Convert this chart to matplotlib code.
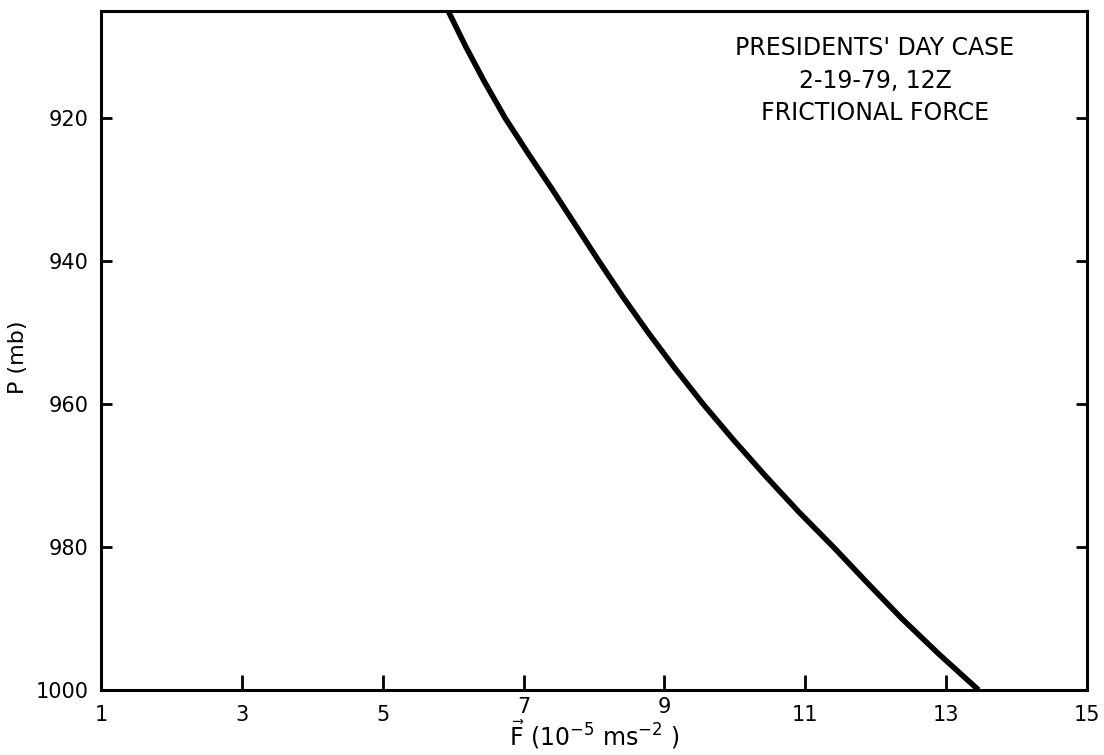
import matplotlib
matplotlib.use('Agg')
import matplotlib.pyplot as plt

# frictional force profile
pressure = [905, 910, 915, 920, 925, 930, 935, 940, 945, 950,
            955, 960, 965, 970, 975, 980, 985, 990, 995, 1000]   # mb
force = [5.93, 6.18, 6.45, 6.74, 7.07, 7.41, 7.74, 8.07, 8.41, 8.77,
         9.15, 9.55, 9.98, 10.43, 10.90, 11.40, 11.88, 12.37, 12.90, 13.46]  # 1e-5 m s-2

xticks = [1, 3, 5, 7, 9, 11, 13, 15]
yticks = [920, 940, 960, 980, 1000]
title_lines = ["PRESIDENTS' DAY CASE", "2-19-79, 12Z", "FRICTIONAL FORCE"]

plt.rcParams['font.family'] = ['DejaVu Sans']
plt.rcParams['mathtext.default'] = 'regular'

fig = plt.figure(figsize=(11.04, 7.55), dpi=100)
ax = fig.add_axes([0.0915, 0.0861, 0.8931, 0.8993])

ax.plot(force, pressure, color='black', lw=4, solid_capstyle='butt',
        solid_joinstyle='round')

ax.set_xlim(1, 15)
ax.set_ylim(1000, 905)
ax.set_xticks(xticks)
ax.set_yticks(yticks)
ax.set_xticklabels([str(t) for t in xticks], fontsize=15)
ax.set_yticklabels([str(t) for t in yticks], fontsize=15)
ax.tick_params(axis='x', direction='in', length=11, width=2, pad=11)
ax.tick_params(axis='y', direction='in', length=8, width=2, pad=9, right=True)

# in the original the 7 and 9 sit higher, clear of the axis title
for lab in ax.get_xticklabels():
    if lab.get_text() in ('7', '9'):
        lab.set_y(lab.get_position()[1] + 0.012)

for s in ax.spines.values():
    s.set_linewidth(2.2)

ax.set_xlabel(r'$\vec{F}$ (10$^{-5}$ ms$^{-2}$ )', fontsize=17, va='bottom')
ax.xaxis.set_label_coords(0.5, -0.0905)
ax.set_ylabel('P (mb)', fontsize=16)
ax.yaxis.set_label_coords(-0.074, 0.49)

ax.text(0.785, 0.963, '\n'.join(title_lines), transform=ax.transAxes,
        ha='center', va='top', fontsize=17, linespacing=1.45)

fig.savefig('out.png', dpi=100)
